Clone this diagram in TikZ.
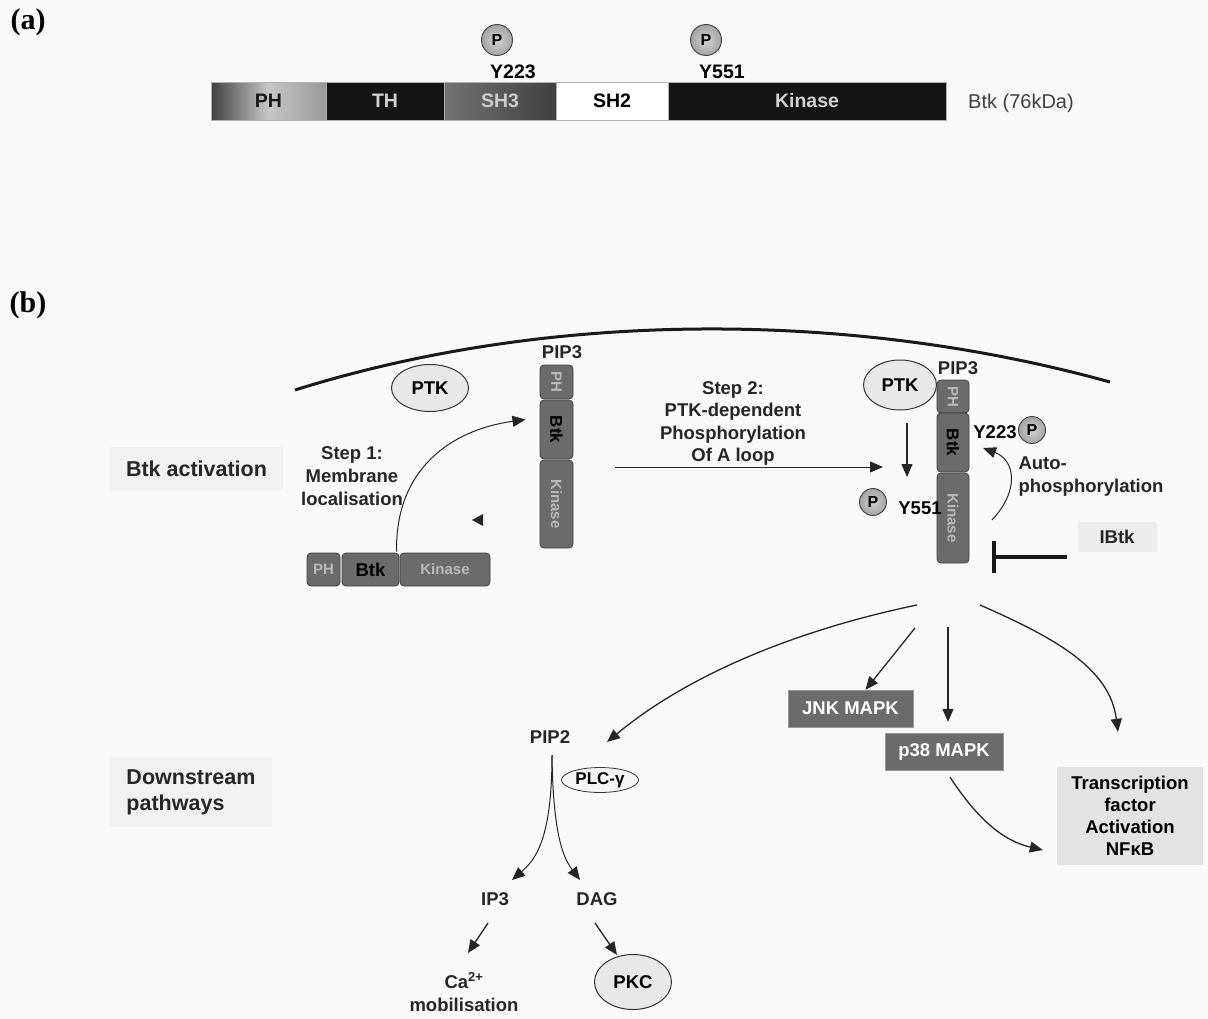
\documentclass[tikz,border=0pt]{standalone}
\usepackage{fontspec}
\setmainfont{Liberation Sans}
\newfontfamily\labserif{Liberation Serif}
\usetikzlibrary{arrows.meta,shapes.geometric,calc}
\begin{document}
\begin{tikzpicture}[x=1pt,y=-1pt,
  arr/.style={line width=1.3pt, draw=black!85, -{Triangle[length=13pt,width=11pt]}},
  bt/.style={font=\fontsize{18.5}{22}\selectfont\bfseries, text=black!85},
  big/.style={font=\fontsize{21.5}{26}\selectfont\bfseries, text=black!85},
  panel/.style={font=\fontsize{30}{32}\selectfont\labserif\bfseries},
  seg/.style={draw=gray!60, minimum height=38pt, inner sep=0pt, font=\fontsize{19.5}{22}\selectfont\bfseries},
  pball/.style={circle, minimum size=#1, inner sep=0pt, inner color=gray!35, outer color=gray!72, draw=black!75, line width=0.9pt, font=\fontsize{16}{18}\selectfont\bfseries},
  dom/.style={draw=black!75, fill=black!58, rounded corners=4pt, inner sep=0pt, line width=0.8pt, font=\fontsize{15}{17}\selectfont\bfseries},
  ell/.style={ellipse, draw=black!80, fill=gray!18, line width=1pt, inner sep=0pt, font=\fontsize{18.5}{21}\selectfont\bfseries},
  darkbox/.style={fill=black!58, draw=black!40, text=white, inner sep=0pt, font=\fontsize{18.5}{21}\selectfont\bfseries},
  lightbox/.style={fill=gray!11, inner sep=0pt}
]
\useasboundingbox (0,0) rectangle (1208,1018);
\fill[gray!5] (0,0) rectangle (1208,1018);

% ---------------- (a)
\node[panel] (la) at (28,22) {(a)};
\node[seg, minimum width=115pt, left color=black!75, right color=black!40, middle color=black!22, text=black!90] (ph) at (268.5,101) {PH};
\node[seg, minimum width=118pt, fill=black!92, text=gray!35] (th) at (385,101) {TH};
\node[seg, minimum width=112pt, left color=black!55, right color=black!75, text=gray!40] (sh3) at (500,101) {SH3};
\node[seg, minimum width=112pt, fill=white, text=black] (sh2) at (612,101) {SH2};
\node[seg, minimum width=278pt, fill=black!92, text=gray!35] (kin) at (807,101) {Kinase};
\node[font=\fontsize{20}{22}\selectfont, text=black!75] (btkkda) at (1021,103) {Btk (76kDa)};
\node[pball=31pt] (pa1) at (497,40) {P};
\node[pball=31pt] (pa2) at (706,40) {P};
\node[bt, font=\fontsize{19.5}{22}\selectfont\bfseries, text=black] (ya1) at (513,72) {Y223};
\node[bt, font=\fontsize{19.5}{22}\selectfont\bfseries, text=black] (ya2) at (722,72) {Y551};

% ---------------- (b)
\node[panel] (lb) at (28,305) {(b)};
\coordinate (memL) at (295,390);
\coordinate (memR) at (1110,382);
\draw[line width=3pt, black!90] (memL) .. controls (550,310) and (850,310) .. (memR);

\node[lightbox, minimum width=173pt, minimum height=43pt, big] (act) at (196.5,468.5) {Btk activation};
\node[lightbox, minimum width=162pt, minimum height=69pt, big, align=left] (down) at (191,792.5) {Downstream\\pathways};

% left PTK, membrane-bound Btk
\node[ell, minimum width=77pt, minimum height=47pt] (ptka) at (430,388) {PTK};
\node[bt] (pip3a) at (562,352) {PIP3};
\node[dom, rotate=-90, minimum width=34pt, minimum height=33pt, text=gray!55] (vpha) at (556.5,382) {PH};
\node[dom, rotate=-90, minimum width=59pt, minimum height=33pt, text=black, font=\fontsize{17}{19}\selectfont\bfseries] (vbtka) at (556.5,429.5) {Btk};
\node[dom, rotate=-90, minimum width=88pt, minimum height=33pt, text=gray!55] (vkina) at (556.5,504) {Kinase};

% cytosolic Btk
\node[dom, minimum width=33pt, minimum height=33pt, text=gray!55] (hph) at (323.5,569.5) {PH};
\node[dom, minimum width=57pt, minimum height=33pt, text=black, font=\fontsize{18.5}{20}\selectfont\bfseries] (hbtk) at (370.5,569.5) {Btk};
\node[dom, minimum width=90pt, minimum height=33pt, text=gray!55] (hkin) at (445,569.5) {Kinase};

\node[bt, align=center, font=\fontsize{18.5}{23}\selectfont\bfseries] (step1) at (352,476) {Step 1:\\Membrane\\localisation};
\draw[arr, line width=1pt] ($(hkin.north west)+(-3,-1)$) .. controls (395,470) and (450,430) .. ($(vbtka.center)+(-31,-10)$);
\fill[black!85] (472,520) -- (483,514) -- (483,526) -- cycle;

% Step 2
\node[bt, align=center, font=\fontsize{18.5}{22.5}\selectfont\bfseries] (step2) at (733,423.5) {Step 2:\\PTK-dependent\\Phosphorylation\\Of A loop};
\coordinate (s2start) at (615,467);
\coordinate (s2end) at (883,467);
\draw[arr, line width=1pt] (s2start) -- (s2end);

% right PTK, active Btk
\node[ell, minimum width=73pt, minimum height=50pt] (ptkb) at (900,385) {PTK};
\node[bt] (pip3b) at (958,368) {PIP3};
\node[dom, rotate=-90, minimum width=33pt, minimum height=32pt, text=gray!55] (vphb) at (953,396.5) {PH};
\node[dom, rotate=-90, minimum width=59pt, minimum height=32pt, text=black, font=\fontsize{17}{19}\selectfont\bfseries] (vbtkb) at (953,442.5) {Btk};
\node[dom, rotate=-90, minimum width=90pt, minimum height=32pt, text=gray!55] (vkinb) at (953,518) {Kinase};
\node[bt, text=black] (yb1) at (995,432) {Y223};
\node[pball=27pt] (pb1) at (1032,430) {P};
\node[pball=27pt] (pb2) at (873,502) {P};
\node[bt, text=black] (yb2) at (920,508) {Y551};
\draw[arr] ($(ptkb.center)+(7,38)$) -- ($(ptkb.center)+(7,92)$);
\node[bt, align=left, anchor=west, font=\fontsize{18.5}{23}\selectfont\bfseries] (auto) at (1015,477) {Auto-\\phosphorylation};
\coordinate (autoS) at (992,520);
\draw[arr, line width=1pt] (autoS) .. controls (1020,490) and (1015,460) .. ($(vbtkb.center)+(30,5.5)$);
\node[lightbox, fill=gray!14, minimum width=79pt, minimum height=30pt, bt] (ibtk) at (1117,537) {IBtk};
\coordinate (ibtkE) at (1067,557);
\draw[line width=4pt, black!90, -{Bar[width=32pt]}] (ibtkE) -- (992,557);

% ---------------- downstream
\node[darkbox, minimum width=125pt, minimum height=37pt] (jnk) at (850.5,708.5) {JNK MAPK};
\node[darkbox, minimum width=118pt, minimum height=37pt] (p38) at (944,751.5) {p38 MAPK};
\node[lightbox, fill=gray!22, minimum width=146pt, minimum height=98pt, bt, align=center, font=\fontsize{18.5}{22}\selectfont\bfseries, text=black] (tf) at (1130,816) {Transcription\\factor\\Activation\\NFκB};

\node[bt] (pip2) at (550,737) {PIP2};
\node[ell, fill=gray!8, line width=0.8pt, minimum width=77pt, minimum height=25pt, font=\fontsize{17}{19}\selectfont\bfseries] (plc) at (600,780) {PLC-γ};
\node[bt] (ip3) at (495,899) {IP3};
\node[bt] (dag) at (597,899) {DAG};
\node[bt, align=center, font=\fontsize{18.5}{23}\selectfont\bfseries] (ca) at (464,992) {Ca\textsuperscript{2+}\\mobilisation};
\node[ell, minimum width=77pt, minimum height=55pt] (pkc) at (633,982) {PKC};

\coordinate (hub1) at (917,605);
\coordinate (hub2) at (915,628);
\coordinate (hub3) at (948,627);
\coordinate (hub4) at (980,605);
\draw[arr] (hub1) .. controls (820,625) and (700,665) .. ($(pip2.center)+(57,5)$);
\draw[arr] (hub2) -- ($(jnk.north)+(15,0)$);
\draw[arr] (hub3) -- ($(p38.north)+(4,-11)$);
\draw[arr] (hub4) .. controls (1060,640) and (1110,670) .. ($(tf.north)+(-12,-35)$);
\draw[arr] ($(p38.south)+(6,7)$) .. controls (975,815) and (1000,840) .. ($(tf.west)+(-14,34)$);

\draw[arr, line width=1pt] ($(pip2.center)+(2,18)$) .. controls (552,840) and (535,860) .. ($(ip3.center)+(17,-19)$);
\draw[arr, line width=1pt] ($(pip2.center)+(2,18)$) .. controls (553,840) and (565,860) .. ($(dag.center)+(-17,-19)$);
\draw[arr] ($(ip3.center)+(-7,24)$) -- ($(ca.center)+(4,-39)$);
\draw[arr] ($(dag.center)+(-2,24)$) -- ($(pkc.center)+(-16,-27)$);
\end{tikzpicture}
\end{document}
